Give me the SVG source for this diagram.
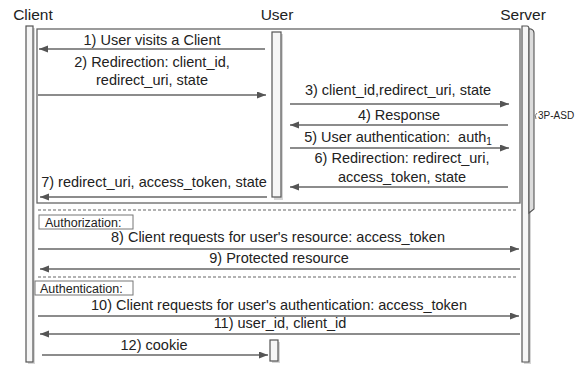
<svg xmlns="http://www.w3.org/2000/svg" width="578" height="365" viewBox="0 0 578 365">
<style>
.t{font-family:"Liberation Sans",Arial,sans-serif;font-size:14.5px;fill:#222}
.title{font-family:"Liberation Sans",Arial,sans-serif;font-size:15.5px;fill:#222}
.small{font-family:"Liberation Sans",Arial,sans-serif;font-size:12.5px;fill:#222}
.tiny{font-family:"Liberation Sans",Arial,sans-serif;font-size:10px;fill:#222}
.ln{stroke:#666;stroke-width:1.3;fill:none}
.ar{stroke:#666;stroke-width:1.3;fill:none;marker-end:url(#ah)}
.dash{stroke:#666;stroke-width:1.2;stroke-dasharray:3,2;fill:none}
.bar{fill:#f6f6f6;stroke:#555;stroke-width:1.2}
.sh{fill:#d6d6d6}
.lbl{fill:#fff;stroke:#777;stroke-width:1}
</style>
<defs>
<marker id="ah" markerUnits="userSpaceOnUse" markerWidth="10" markerHeight="8" refX="9" refY="3.5" orient="auto">
<path d="M0,0 L9,3.5 L0,7 z" fill="#555"/>
</marker>
</defs>
<rect width="578" height="365" fill="#fff"/>

<g id="frame">
<rect x="37" y="29" width="483" height="174" class="ln"/>
</g>

<g id="client">
<text class="title" x="33" y="20" text-anchor="middle">Client</text>
<rect class="sh" x="28" y="28" width="7" height="336"/>
<rect class="bar" x="26" y="26" width="7" height="336"/>
</g>

<g id="user">
<text class="title" x="277" y="20" text-anchor="middle">User</text>
<rect class="sh" x="274" y="34" width="9" height="166"/>
<rect class="bar" x="272" y="32" width="9" height="165"/>
<rect class="sh" x="272" y="342" width="8" height="21"/>
<rect class="bar" x="270" y="340" width="8" height="21"/>
</g>

<g id="server">
<text class="title" x="523" y="20" text-anchor="middle">Server</text>
<rect class="sh" x="524" y="28" width="7" height="336"/>
<path class="bar" d="M522,26 H527 Q529,26 529,29 V362 H522 Z"/>
</g>

<g id="asd">
<path d="M529,29 H531 Q534,30 534,33 V209 L529,213 Z" fill="#dcdcdc" stroke="#555" stroke-width="1.1"/>
<path d="M537,113 Q534,115 536,119" fill="none" stroke="#555" stroke-width="0.8"/>
<text class="tiny" x="538" y="119">3P-ASD</text>
</g>

<g id="connectors">
<line class="ar" x1="265" y1="49" x2="39" y2="49"/>
<line class="ar" x1="38" y1="95" x2="266" y2="95"/>
<line class="ar" x1="290" y1="104" x2="509" y2="104"/>
<line class="ar" x1="508" y1="125" x2="290" y2="125"/>
<line class="ar" x1="290" y1="148" x2="509" y2="148"/>
<line class="ar" x1="508" y1="187" x2="290" y2="187"/>
<line class="ar" x1="267" y1="197" x2="40" y2="197"/>
<line class="dash" x1="38" y1="210" x2="516" y2="210"/>
<line class="ar" x1="38" y1="249" x2="519" y2="249"/>
<line class="ar" x1="520" y1="269" x2="40" y2="269"/>
<line class="dash" x1="38" y1="277" x2="516" y2="277"/>
<line class="ar" x1="38" y1="316" x2="519" y2="316"/>
<line class="ar" x1="520" y1="334" x2="40" y2="334"/>
<line class="ar" x1="42" y1="355" x2="268" y2="355"/>
</g>

<g id="labels">
<text class="t" x="152" y="45" text-anchor="middle">1) User visits a Client</text>
<text class="t" x="152" y="67" text-anchor="middle">2) Redirection: client_id,</text>
<text class="t" x="152" y="85" text-anchor="middle">redirect_uri, state</text>
<text class="t" x="398" y="95" text-anchor="middle">3) client_id,redirect_uri, state</text>
<text class="t" x="399" y="120" text-anchor="middle">4) Response</text>
<text class="t" x="398" y="142" text-anchor="middle" xml:space="preserve">5) User authentication:  auth<tspan font-size="10px" dy="3">1</tspan></text>
<text class="t" x="402" y="163" text-anchor="middle">6) Redirection: redirect_uri,</text>
<text class="t" x="402" y="182" text-anchor="middle">access_token, state</text>
<text class="t" x="154" y="187" text-anchor="middle">7) redirect_uri, access_token, state</text>
<rect class="lbl" x="39" y="215" width="94" height="14"/>
<text class="small" x="45" y="227">Authorization:</text>
<text class="t" x="278" y="242" text-anchor="middle">8) Client requests for user's resource: access_token</text>
<text class="t" x="279" y="263" text-anchor="middle">9) Protected resource</text>
<rect class="lbl" x="35" y="281" width="98" height="14"/>
<text class="small" x="40" y="293">Authentication:</text>
<text class="t" x="279" y="310" text-anchor="middle">10) Client requests for user's authentication: access_token</text>
<text class="t" x="280" y="328" text-anchor="middle">11) user_id, client_id</text>
<text class="t" x="154" y="350" text-anchor="middle">12) cookie</text>
</g>
</svg>
